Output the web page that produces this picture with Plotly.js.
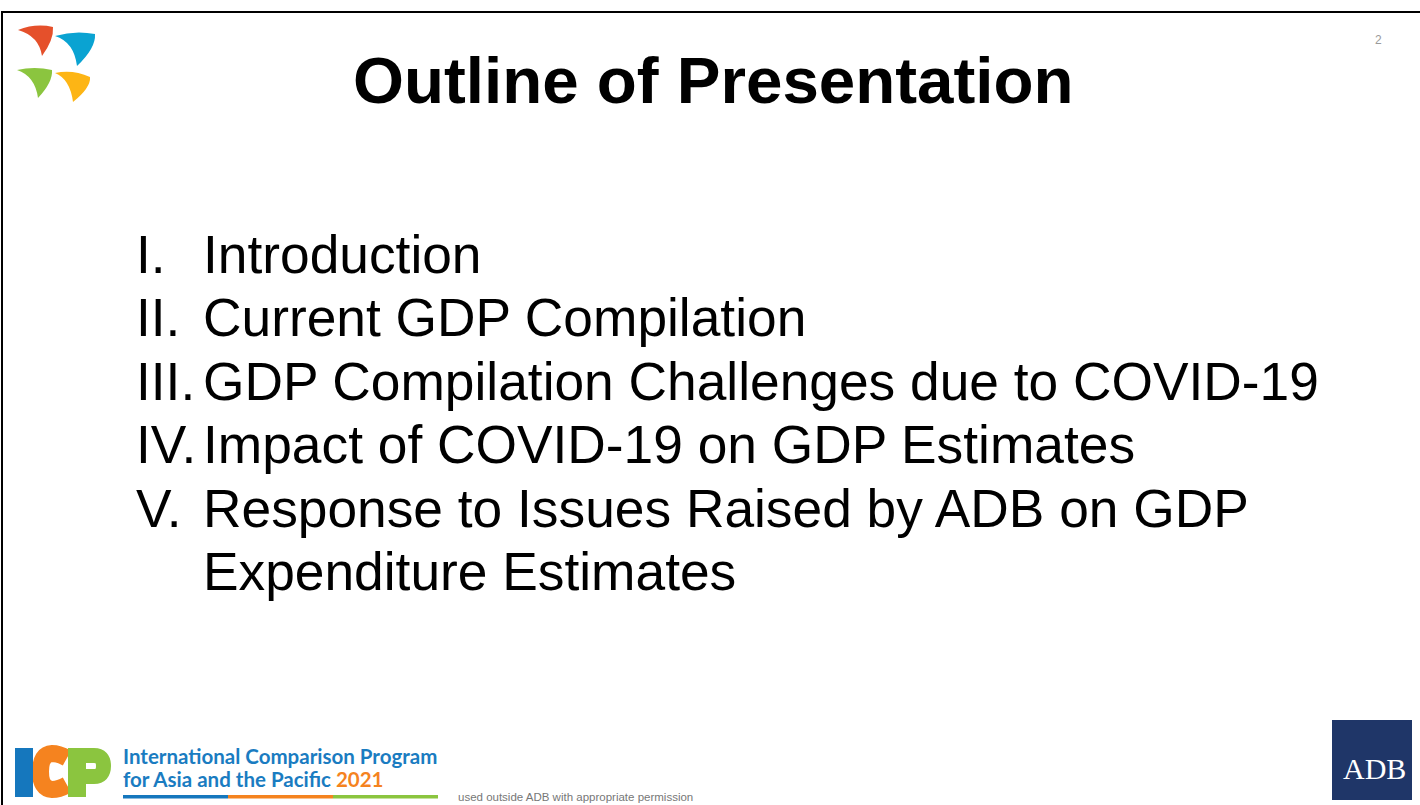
<!DOCTYPE html>
<html>
<head>
<meta charset="utf-8">
<script src="https://cdn.plot.ly/plotly-3.0.1.min.js"></script>
<style>html,body{margin:0;padding:0;background:#fff;}#chart{width:1420px;height:805px;}</style>
</head>
<body>
<div id="chart"></div>
<script>
// ---- content ----
const slideTitle = "Outline of Presentation";
const outlineNumerals = ["I.", "II.", "III.", "IV.", "V."];
const outlineItems = [
  ["Introduction"],
  ["Current GDP Compilation"],
  ["GDP Compilation Challenges due to COVID-19"],
  ["Impact of COVID-19 on GDP Estimates"],
  ["Response to Issues Raised by ADB on GDP", "Expenditure Estimates"]
];
const pageNumber = "2";
const icpLine1 = "International Comparison Program";
const icpLine2 = "for Asia and the Pacific";
const icpYear = "2021";
const adbLabel = "ADB";
const footerNote = "used outside ADB with appropriate permission";

// ---- layout helpers ----
const W = 1420, H = 805;
const annotations = [];
const shapes = [];

function ann(text, x, y, size, color, opts) {
  annotations.push(Object.assign({
    text: text, x: x, y: y, xref: "x", yref: "y", showarrow: false,
    xanchor: "left", yanchor: "middle",
    font: {family: "Liberation Sans, Arial, sans-serif", size: size, color: color}
  }, opts || {}));
}

// border
shapes.push({type: "rect", xref: "x", yref: "y", x0: 2, y0: 12, x1: W + 10, y1: H + 10,
  line: {color: "#000", width: 2}, fillcolor: "rgba(0,0,0,0)"});

// title
ann(slideTitle, 713, 80, 65.5, "#000", {xanchor: "center",
  font: {family: "Liberation Sans, Arial, sans-serif", size: 65.5, color: "#000", weight: 700}});

// outline list
const firstLineY = 254, lineStep = 63.5, numX = 134, textX = 201, bodySize = 53.3;
let lineIdx = 0;
outlineItems.forEach((lines, i) => {
  ann(outlineNumerals[i], numX, firstLineY + lineStep * lineIdx, bodySize, "#000");
  lines.forEach(l => {
    ann(l, textX, firstLineY + lineStep * lineIdx, bodySize, "#000");
    lineIdx++;
  });
});

// page number
ann(pageNumber, 1378, 40, 12, "#9a9a9a", {xanchor: "center"});

// top-left swoosh logo
function swoosh(T, C, P, color) {
  const c1 = [(T[0] + C[0]) / 2, Math.min(T[1], C[1]) - 4];
  const c2 = [C[0] + 1, (C[1] + P[1]) / 2 - 2];
  const c3 = [P[0] - 3, T[1] + 6];
  return {type: "path", xref: "x", yref: "y", fillcolor: color, line: {width: 0},
    path: `M ${T[0]},${T[1]} Q ${c1[0]},${c1[1]} ${C[0]},${C[1]} Q ${c2[0]},${c2[1]} ${P[0]},${P[1]} Q ${c3[0]},${c3[1]} ${T[0]},${T[1]} Z`};
}
shapes.push(swoosh([18, 30], [53, 27], [42, 56], "#e5502b"));
shapes.push(swoosh([55, 36], [95, 34], [77, 66], "#0aa3d2"));
shapes.push(swoosh([17, 70], [52, 70], [38, 98], "#8bc53f"));
shapes.push(swoosh([55, 73], [90, 77], [73, 102], "#fdb515"));

// ICP logo letters
shapes.push({type: "path", xref: "x", yref: "y", line: {color: "#f5831f", width: 17}, fillcolor: "rgba(0,0,0,0)",
  path: "M 67,758 Q 59,753.5 52,753.5 Q 40.5,754 40.5,771.5 Q 40.5,789 52,789.5 Q 59,789.5 67,785"});
shapes.push({type: "rect", xref: "x", yref: "y", x0: 15, y0: 748, x1: 33, y1: 797, fillcolor: "#1577bd", line: {width: 0}});
shapes.push({type: "rect", xref: "x", yref: "y", x0: 68, y0: 748, x1: 86, y1: 797, fillcolor: "#8bc53f", line: {width: 0}});
shapes.push({type: "path", xref: "x", yref: "y", line: {color: "#8bc53f", width: 15}, fillcolor: "rgba(0,0,0,0)",
  path: "M 84,755.5 L 94,755.5 Q 103.5,755.5 103.5,766 Q 103.5,776.5 94,776.5 L 84,776.5"});

// ICP text
const icpFont = {family: "Lato, sans-serif", size: 20.5, color: "#1a7cc1", weight: 700};
ann(icpLine1, 121, 756, 20.5, "#1a7cc1", {font: icpFont});
ann(icpLine2 + ' <span style="color:#f5831f">' + icpYear + '</span>', 121, 779, 20.5, "#1a7cc1", {font: icpFont});
shapes.push({type: "rect", xref: "x", yref: "y", x0: 123, y0: 795, x1: 228, y1: 798.5, fillcolor: "#1577bd", line: {width: 0}});
shapes.push({type: "rect", xref: "x", yref: "y", x0: 228, y0: 795, x1: 333, y1: 798.5, fillcolor: "#f5831f", line: {width: 0}});
shapes.push({type: "rect", xref: "x", yref: "y", x0: 333, y0: 795, x1: 438, y1: 798.5, fillcolor: "#8bc53f", line: {width: 0}});

// footer note
ann(footerNote, 456, 789, 11.5, "#777", {yanchor: "top"});

// ADB logo
shapes.push({type: "rect", xref: "x", yref: "y", x0: 1332, y0: 720, x1: 1412, y1: 800, fillcolor: "#1f3668", line: {width: 0}});
ann(adbLabel, 1374, 768, 30, "#fff", {xanchor: "center",
  font: {family: "Liberation Serif, Times New Roman, serif", size: 30, color: "#fff"}});

const layout = {
  width: W, height: H,
  margin: {l: 0, r: 0, t: 0, b: 0, pad: 0},
  paper_bgcolor: "#fff", plot_bgcolor: "#fff",
  xaxis: {range: [0, W], visible: false, fixedrange: true},
  yaxis: {range: [H, 0], visible: false, fixedrange: true},
  showlegend: false,
  annotations: annotations,
  shapes: shapes
};
Plotly.newPlot("chart", [], layout, {staticPlot: true, displayModeBar: false});
</script>
</body>
</html>
